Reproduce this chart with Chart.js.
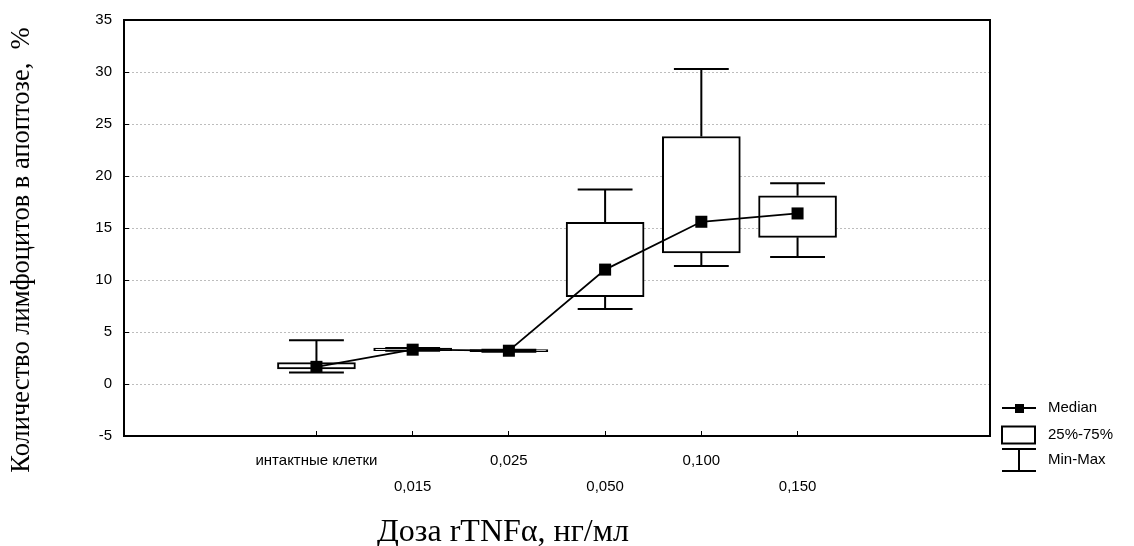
<!DOCTYPE html>
<html>
<head>
<meta charset="utf-8">
<script src="https://cdn.jsdelivr.net/npm/chart.js@4/dist/chart.umd.min.js"></script>
<style>
  html, body { margin: 0; padding: 0; background: #fff; }
</style>
</head>
<body>
<canvas id="chart" width="1134" height="546"></canvas>
<script>
// категории (доза rTNFa, нг/мл) и статистики по каждой группе, % лимфоцитов в апоптозе
const categories = ["интактные клетки", "0,015", "0,025", "0,050", "0,100", "0,150"];
const mins    = [1.1,  3.2,  3.1,  7.2,  11.35, 12.2];
const q1      = [1.45, 3.2,  3.1,  8.4,  12.6,  14.1];
const medians = [1.65, 3.3,  3.2,  11.0, 15.6,  16.4];
const q3      = [2.05, 3.45, 3.3,  15.55, 23.8, 18.1];
const maxs    = [4.2,  3.45, 3.3,  18.7, 30.3,  19.3];
const yTicks  = [-5, 0, 5, 10, 15, 20, 25, 30, 35];

const SANS = "'Liberation Sans', Arial, sans-serif";
const SERIF = "'Liberation Serif', 'Times New Roman', serif";
const CAP = 0.285;   // половина ширины усов, в единицах категории

const boxData = categories.map((c, i) => ({ x: i, y: [q1[i], q3[i]] }));
const medianData = categories.map((c, i) => ({ x: i, y: medians[i] }));
const whiskerData = [];
categories.forEach((c, i) => {
    whiskerData.push(
        { x: i - CAP, y: maxs[i] }, { x: i + CAP, y: maxs[i] }, { x: i, y: null },
        { x: i, y: maxs[i] }, { x: i, y: q3[i] }, { x: i, y: null },
        { x: i, y: q1[i] }, { x: i, y: mins[i] }, { x: i, y: null },
        { x: i - CAP, y: mins[i] }, { x: i + CAP, y: mins[i] }, { x: i, y: null }
    );
});

// убираем авто-отступы под подписи, чтобы область построения стояла как в оригинале
function noPad(s) {
    s.paddingTop = 0; s.paddingBottom = 0; s.paddingLeft = 0; s.paddingRight = 0;
}

// рамка области построения
const framePlugin = {
    id: "frame",
    beforeDatasetsDraw(chart) {
        const { ctx, chartArea: a } = chart;
        ctx.save();
        ctx.strokeStyle = "#000";
        ctx.lineWidth = 2;
        ctx.strokeRect(a.left, a.top, a.right - a.left, a.bottom - a.top);
        ctx.restore();
    },
};

// легенда справа внизу и подписи осей
const legendPlugin = {
    id: "boxLegend",
    afterDraw(chart) {
        const { ctx, chartArea: a } = chart;
        const x0 = a.right + 12;
        ctx.save();
        ctx.strokeStyle = "#000";
        ctx.fillStyle = "#000";
        ctx.lineWidth = 2;

        let y = 408;
        ctx.beginPath(); ctx.moveTo(x0, y); ctx.lineTo(x0 + 34, y); ctx.stroke();
        ctx.fillRect(x0 + 13, y - 4, 9, 9);

        y = 435;
        ctx.strokeRect(x0, y - 8.5, 33, 17);

        y = 460;
        ctx.beginPath();
        ctx.moveTo(x0, y - 11); ctx.lineTo(x0 + 34, y - 11);
        ctx.moveTo(x0 + 17, y - 11); ctx.lineTo(x0 + 17, y + 11);
        ctx.moveTo(x0, y + 11); ctx.lineTo(x0 + 34, y + 11);
        ctx.stroke();

        ctx.font = `15px ${SANS}`;
        ctx.textAlign = "left";
        ctx.textBaseline = "middle";
        ctx.fillText("Median", x0 + 46, 408);
        ctx.fillText("25%-75%", x0 + 46, 435);
        ctx.fillText("Min-Max", x0 + 46, 460);

        ctx.font = `32px ${SERIF}`;
        ctx.textAlign = "left";
        ctx.textBaseline = "alphabetic";
        ctx.fillText("Доза rTNFα, нг/мл", 377, 541);

        ctx.translate(22, 250);
        ctx.rotate(-Math.PI / 2);
        ctx.font = `26.5px ${SERIF}`;
        ctx.textAlign = "center";
        ctx.textBaseline = "middle";
        ctx.fillText("Количество лимфоцитов в апоптозе,  %", 0, 0);
        ctx.restore();
    },
};

new Chart(document.getElementById("chart"), {
    type: "line",
    data: {
        datasets: [
            {
                type: "line", label: "Median", data: medianData, order: 0,
                borderColor: "#000", borderWidth: 1.8, backgroundColor: "#000",
                pointStyle: "rect", pointRadius: 8.5, pointBorderWidth: 0,
                pointBackgroundColor: "#000",
            },
            {
                type: "line", label: "Min-Max", data: whiskerData, order: 1,
                borderColor: "#000", borderWidth: 2, pointRadius: 0, spanGaps: false,
            },
            {
                type: "bar", label: "25%-75%", data: boxData, order: 2,
                backgroundColor: "#fff", borderColor: "#000", borderWidth: 2,
                borderSkipped: false, barThickness: 78,
            },
        ],
    },
    options: {
        responsive: false,
        animation: false,
        layout: { padding: { top: 20, right: 144, left: 0, bottom: 0 } },
        plugins: { legend: { display: false }, tooltip: { enabled: false } },
        scales: {
            x: {
                type: "linear", min: -2, max: 7, offset: false,
                afterBuildTicks: s => { s.ticks = categories.map((c, i) => ({ value: i })); },
                afterFit: s => { s.height = 110; noPad(s); },
                grid: { offset: false, drawOnChartArea: false, drawTicks: true, tickLength: -5,
                    tickColor: "#000", tickWidth: 1 },
                border: { display: false },
                ticks: {
                    autoSkip: false, maxRotation: 0, padding: 17, color: "#000",
                    font: { family: SANS, size: 15, lineHeight: 1.73 },
                    callback: (v, i) => (i % 2 ? ["", categories[i]] : [categories[i], ""]),
                },
            },
            y: {
                type: "linear", min: -5, max: 35,
                afterBuildTicks: s => { s.ticks = yTicks.map(v => ({ value: v })); },
                afterFit: s => { s.width = 124; noPad(s); },
                grid: {
                    color: c => (c.tick && (c.tick.value === -5 || c.tick.value === 35)) ? "rgba(0,0,0,0)" : "#bdbdbd",
                    lineWidth: 1, tickLength: -5, tickColor: "#000", tickWidth: 1,
                },
                border: { display: false, dash: [2, 2] },
                ticks: { padding: 17, color: "#000", font: { family: SANS, size: 15 } },
            },
        },
    },
    plugins: [framePlugin, legendPlugin],
});
</script>
</body>
</html>
